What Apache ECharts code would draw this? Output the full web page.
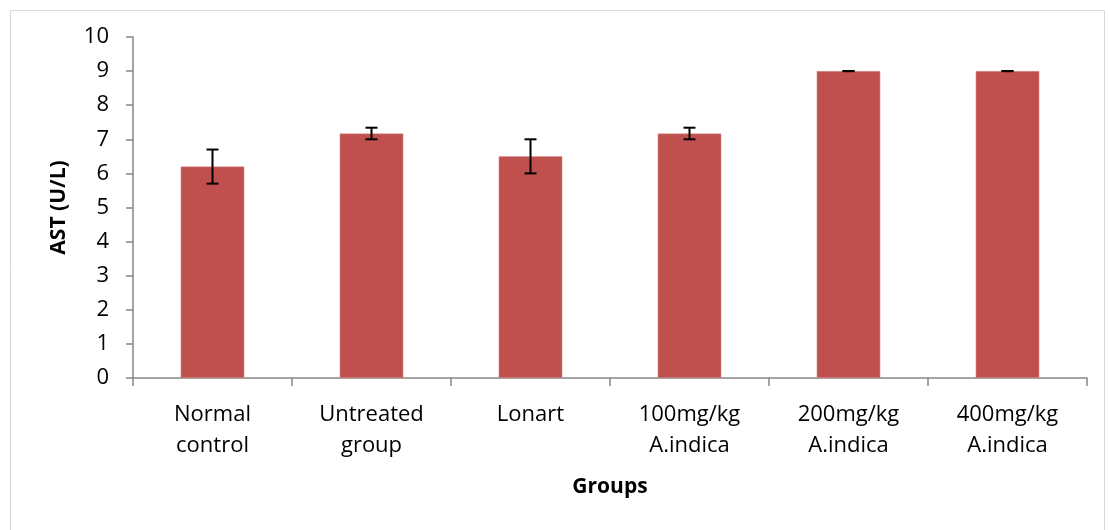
<!DOCTYPE html>
<html>
<head>
<meta charset="utf-8">
<script src="https://cdn.jsdelivr.net/npm/echarts@6/dist/echarts.min.js"></script>
<style>html,body{margin:0;padding:0;background:#fff}#c{width:1110px;height:530px}</style>
</head>
<body>
<div id="c"></div>
<script>
var categories = ['Normal\ncontrol', 'Untreated\ngroup', 'Lonart', '100mg/kg\nA.indica', '200mg/kg\nA.indica', '400mg/kg\nA.indica'];
var values = [6.2, 7.17, 6.5, 7.17, 9.0, 9.0];
var errors = [0.5, 0.17, 0.5, 0.17, 0.0, 0.0];
var yTicks = [0, 10, 1];

var FONT = '"Open Sans", "Noto Sans", sans-serif';
var errData = values.map(function (v, i) { return [i, v - errors[i], v + errors[i]]; });

var chart = echarts.init(document.getElementById('c'), null, {renderer: 'canvas'});
chart.setOption({
  animation: false,
  backgroundColor: '#fff',
  graphic: [{
    type: 'rect', left: 8, top: 8,
    shape: {width: 1094, height: 540},
    style: {fill: 'none', stroke: '#d9d9d9', lineWidth: 1}
  }],
  grid: {left: 133, right: 23, top: 37, bottom: 152},
  xAxis: {
    type: 'category',
    data: categories,
    name: 'Groups',
    nameLocation: 'middle',
    nameGap: 99,
    nameTextStyle: {fontFamily: FONT, fontSize: 21, fontWeight: 'bold', color: '#000'},
    axisLine: {lineStyle: {color: '#868686', width: 1.5}},
    axisTick: {show: true, length: 8, lineStyle: {color: '#868686', width: 1.5}},
    axisLabel: {fontFamily: FONT, fontSize: 22, color: '#000', lineHeight: 31, margin: 21, interval: 0}
  },
  yAxis: {
    type: 'value',
    min: yTicks[0], max: yTicks[1], interval: yTicks[2],
    name: 'AST (U/L)',
    nameLocation: 'middle',
    nameGap: 63,
    nameRotate: 90,
    nameTextStyle: {fontFamily: FONT, fontSize: 21, fontWeight: 'bold', color: '#000'},
    axisLine: {show: true, lineStyle: {color: '#868686', width: 1.5}},
    axisTick: {show: true, length: 7, lineStyle: {color: '#868686', width: 1.5}},
    splitLine: {show: false},
    axisLabel: {fontFamily: FONT, fontSize: 22, color: '#000', margin: 24}
  },
  series: [{
    type: 'bar',
    data: values,
    barWidth: '40%',
    itemStyle: {color: '#C0504D', borderColor: '#D99694', borderWidth: 0.5}
  }, {
    type: 'custom',
    data: errData,
    z: 10,
    renderItem: function (params, api) {
      var x = api.value(0);
      var lo = api.coord([x, api.value(1)]);
      var hi = api.coord([x, api.value(2)]);
      var hw = 6;
      var st = {stroke: '#000', lineWidth: 2};
      return {
        type: 'group',
        children: [
          {type: 'line', shape: {x1: lo[0], y1: lo[1], x2: hi[0], y2: hi[1]}, style: st},
          {type: 'line', shape: {x1: lo[0] - hw, y1: lo[1], x2: lo[0] + hw, y2: lo[1]}, style: st},
          {type: 'line', shape: {x1: hi[0] - hw, y1: hi[1], x2: hi[0] + hw, y2: hi[1]}, style: st}
        ]
      };
    }
  }]
});
</script>
</body>
</html>
